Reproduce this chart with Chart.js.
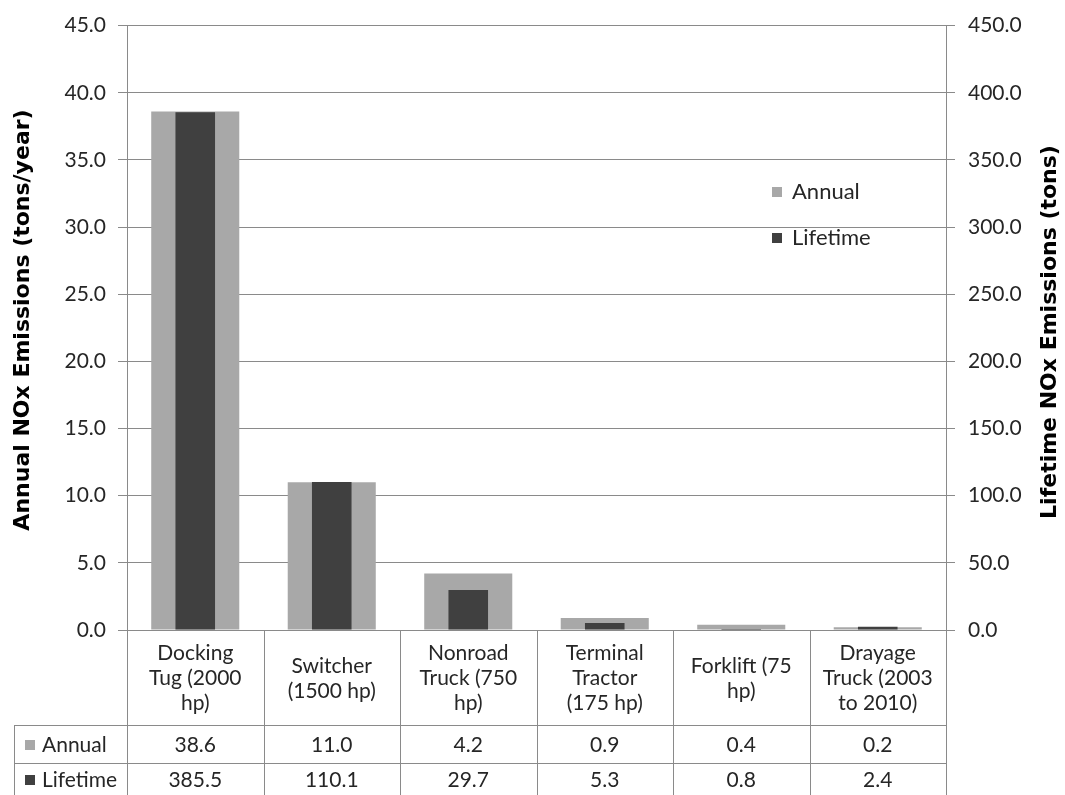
<!DOCTYPE html>
<html>
<head>
<meta charset="utf-8">
<title>NOx Emissions by Equipment Type</title>
<script src="https://cdn.jsdelivr.net/npm/chart.js@4.4.1/dist/chart.umd.min.js"></script>
<style>
  html, body { margin: 0; padding: 0; background: #ffffff; }
  #wrap { width: 1065px; height: 795px; }
</style>
</head>
<body>
<div id="wrap"><canvas id="chart" width="1065" height="795"></canvas></div>
<script>
// Equipment categories, split into the lines shown in the table header
const categories = [
  ['Docking', 'Tug (2000', 'hp)'],
  ['Switcher', '(1500 hp)'],
  ['Nonroad', 'Truck (750', 'hp)'],
  ['Terminal', 'Tractor', '(175 hp)'],
  ['Forklift (75', 'hp)'],
  ['Drayage', 'Truck (2003', 'to 2010)']
];

// Annual NOx emissions, tons/year (left axis)
const annualValues = [38.6, 11.0, 4.2, 0.9, 0.4, 0.2];

// Lifetime NOx emissions, tons (right axis)
const lifetimeValues = [385.5, 110.1, 29.7, 5.3, 0.8, 2.4];

// Axis tick values
const annualTicks = [0, 5, 10, 15, 20, 25, 30, 35, 40, 45];
const lifetimeTicks = [0, 50, 100, 150, 200, 250, 300, 350, 400, 450];

const seriesNames = ['Annual', 'Lifetime'];
const annualTitle = 'Annual NOx Emissions (tons/year)';
const lifetimeTitle = 'Lifetime NOx Emissions (tons)';

const FONT = 'Lato, "Open Sans", sans-serif';
const TITLE_FONT = '"DejaVu Sans", sans-serif';
const TEXT = '#262626';
const GRID = '#8a8a8a';
const ANNUAL_COLOR = '#a8a8a8';
const LIFETIME_COLOR = '#404040';

// Draws the axis titles, the in-plot legend and the data table below the plot
const decorations = {
  id: 'decorations',
  afterDraw(chart) {
    const ctx = chart.ctx;
    const area = chart.chartArea;
    const xs = chart.scales.x;
    const n = categories.length;
    const colW = (area.right - area.left) / n;

    ctx.save();

    // Axis titles (both read bottom-to-top)
    ctx.fillStyle = '#000000';
    ctx.font = 'bold 22px ' + TITLE_FONT;
    ctx.textAlign = 'center';
    ctx.textBaseline = 'middle';
    ctx.save();
    ctx.translate(23, 320);
    ctx.rotate(-Math.PI / 2);
    ctx.fillText(annualTitle, 0, 0);
    ctx.restore();
    ctx.save();
    ctx.translate(1050, 332);
    ctx.rotate(-Math.PI / 2);
    ctx.fillText(lifetimeTitle, 0, 0);
    ctx.restore();

    // Legend inside the plot
    const legendColors = [ANNUAL_COLOR, LIFETIME_COLOR];
    ctx.font = '22px ' + FONT;
    ctx.textAlign = 'left';
    ctx.textBaseline = 'middle';
    [192, 238].forEach((ly, i) => {
      ctx.fillStyle = legendColors[i];
      ctx.fillRect(772, ly - 5, 10, 10);
      ctx.fillStyle = TEXT;
      ctx.fillText(seriesNames[i], 792, ly);
    });

    // Table grid
    const headerBottom = 725;
    const row1Bottom = 763;
    const tableBottom = chart.height;
    const tableLeft = 14;
    ctx.strokeStyle = GRID;
    ctx.lineWidth = 1;
    ctx.beginPath();
    for (let i = 0; i <= n; i++) {
      const x = Math.round(area.left + i * colW) + 0.5;
      ctx.moveTo(x, area.bottom);
      ctx.lineTo(x, tableBottom);
    }
    [headerBottom, row1Bottom].forEach(y => {
      ctx.moveTo(tableLeft, y + 0.5);
      ctx.lineTo(area.right, y + 0.5);
    });
    ctx.moveTo(tableLeft + 0.5, headerBottom);
    ctx.lineTo(tableLeft + 0.5, tableBottom);
    ctx.stroke();

    // Header: category names
    ctx.fillStyle = TEXT;
    ctx.font = '21px ' + FONT;
    ctx.textAlign = 'center';
    ctx.textBaseline = 'middle';
    const lineH = 25;
    const headerMid = (area.bottom + headerBottom) / 2 + 1;
    categories.forEach((lines, i) => {
      const cx = xs.getPixelForValue(i);
      const y0 = headerMid - (lines.length - 1) * lineH / 2;
      lines.forEach((t, j) => ctx.fillText(t, cx, y0 + j * lineH));
    });

    // Value rows
    const rows = [annualValues, lifetimeValues];
    const rowMids = [(headerBottom + row1Bottom) / 2 + 1, 780];
    rows.forEach((vals, r) => {
      vals.forEach((v, i) => {
        ctx.fillText(v.toFixed(1), xs.getPixelForValue(i), rowMids[r]);
      });
    });

    // Row labels with series keys
    ctx.textAlign = 'left';
    rows.forEach((vals, r) => {
      ctx.fillStyle = legendColors[r];
      ctx.fillRect(25, rowMids[r] - 5, 10, 10);
      ctx.fillStyle = TEXT;
      ctx.fillText(seriesNames[r], 42, rowMids[r]);
    });

    ctx.restore();
  }
};

new Chart(document.getElementById('chart'), {
  type: 'bar',
  data: {
    labels: categories.map(l => l.join(' ')),
    datasets: [
      {
        label: seriesNames[1],
        data: lifetimeValues,
        yAxisID: 'y1',
        backgroundColor: LIFETIME_COLOR,
        grouped: false,
        barPercentage: 0.29,
        categoryPercentage: 1,
        order: 0
      },
      {
        label: seriesNames[0],
        data: annualValues,
        yAxisID: 'y',
        backgroundColor: ANNUAL_COLOR,
        grouped: false,
        barPercentage: 0.645,
        categoryPercentage: 1,
        order: 1
      }
    ]
  },
  options: {
    responsive: false,
    animation: false,
    events: [],
    layout: { padding: { left: 0, right: 0, top: 23, bottom: 165 } },
    plugins: {
      legend: { display: false },
      tooltip: { enabled: false }
    },
    scales: {
      x: {
        display: false,
        offset: true
      },
      y: {
        position: 'left',
        min: annualTicks[0],
        max: annualTicks[annualTicks.length - 1],
        afterBuildTicks(scale) { scale.ticks = annualTicks.map(v => ({ value: v })); },
        afterFit(scale) { scale.width = 127; },
        ticks: {
          padding: 12,
          color: TEXT,
          font: { family: FONT, size: 21 },
          callback: v => Number(v).toFixed(1)
        },
        grid: { color: GRID, lineWidth: 1, tickLength: 9 },
        border: { color: GRID, width: 1 }
      },
      y1: {
        position: 'right',
        min: lifetimeTicks[0],
        max: lifetimeTicks[lifetimeTicks.length - 1],
        afterBuildTicks(scale) { scale.ticks = lifetimeTicks.map(v => ({ value: v })); },
        afterFit(scale) { scale.width = 119; },
        ticks: {
          padding: 13,
          color: TEXT,
          font: { family: FONT, size: 21 },
          callback: v => Number(v).toFixed(1)
        },
        grid: { drawOnChartArea: false, color: GRID, lineWidth: 1, tickLength: 9 },
        border: { color: GRID, width: 1 }
      }
    }
  },
  plugins: [decorations]
});
</script>
</body>
</html>
